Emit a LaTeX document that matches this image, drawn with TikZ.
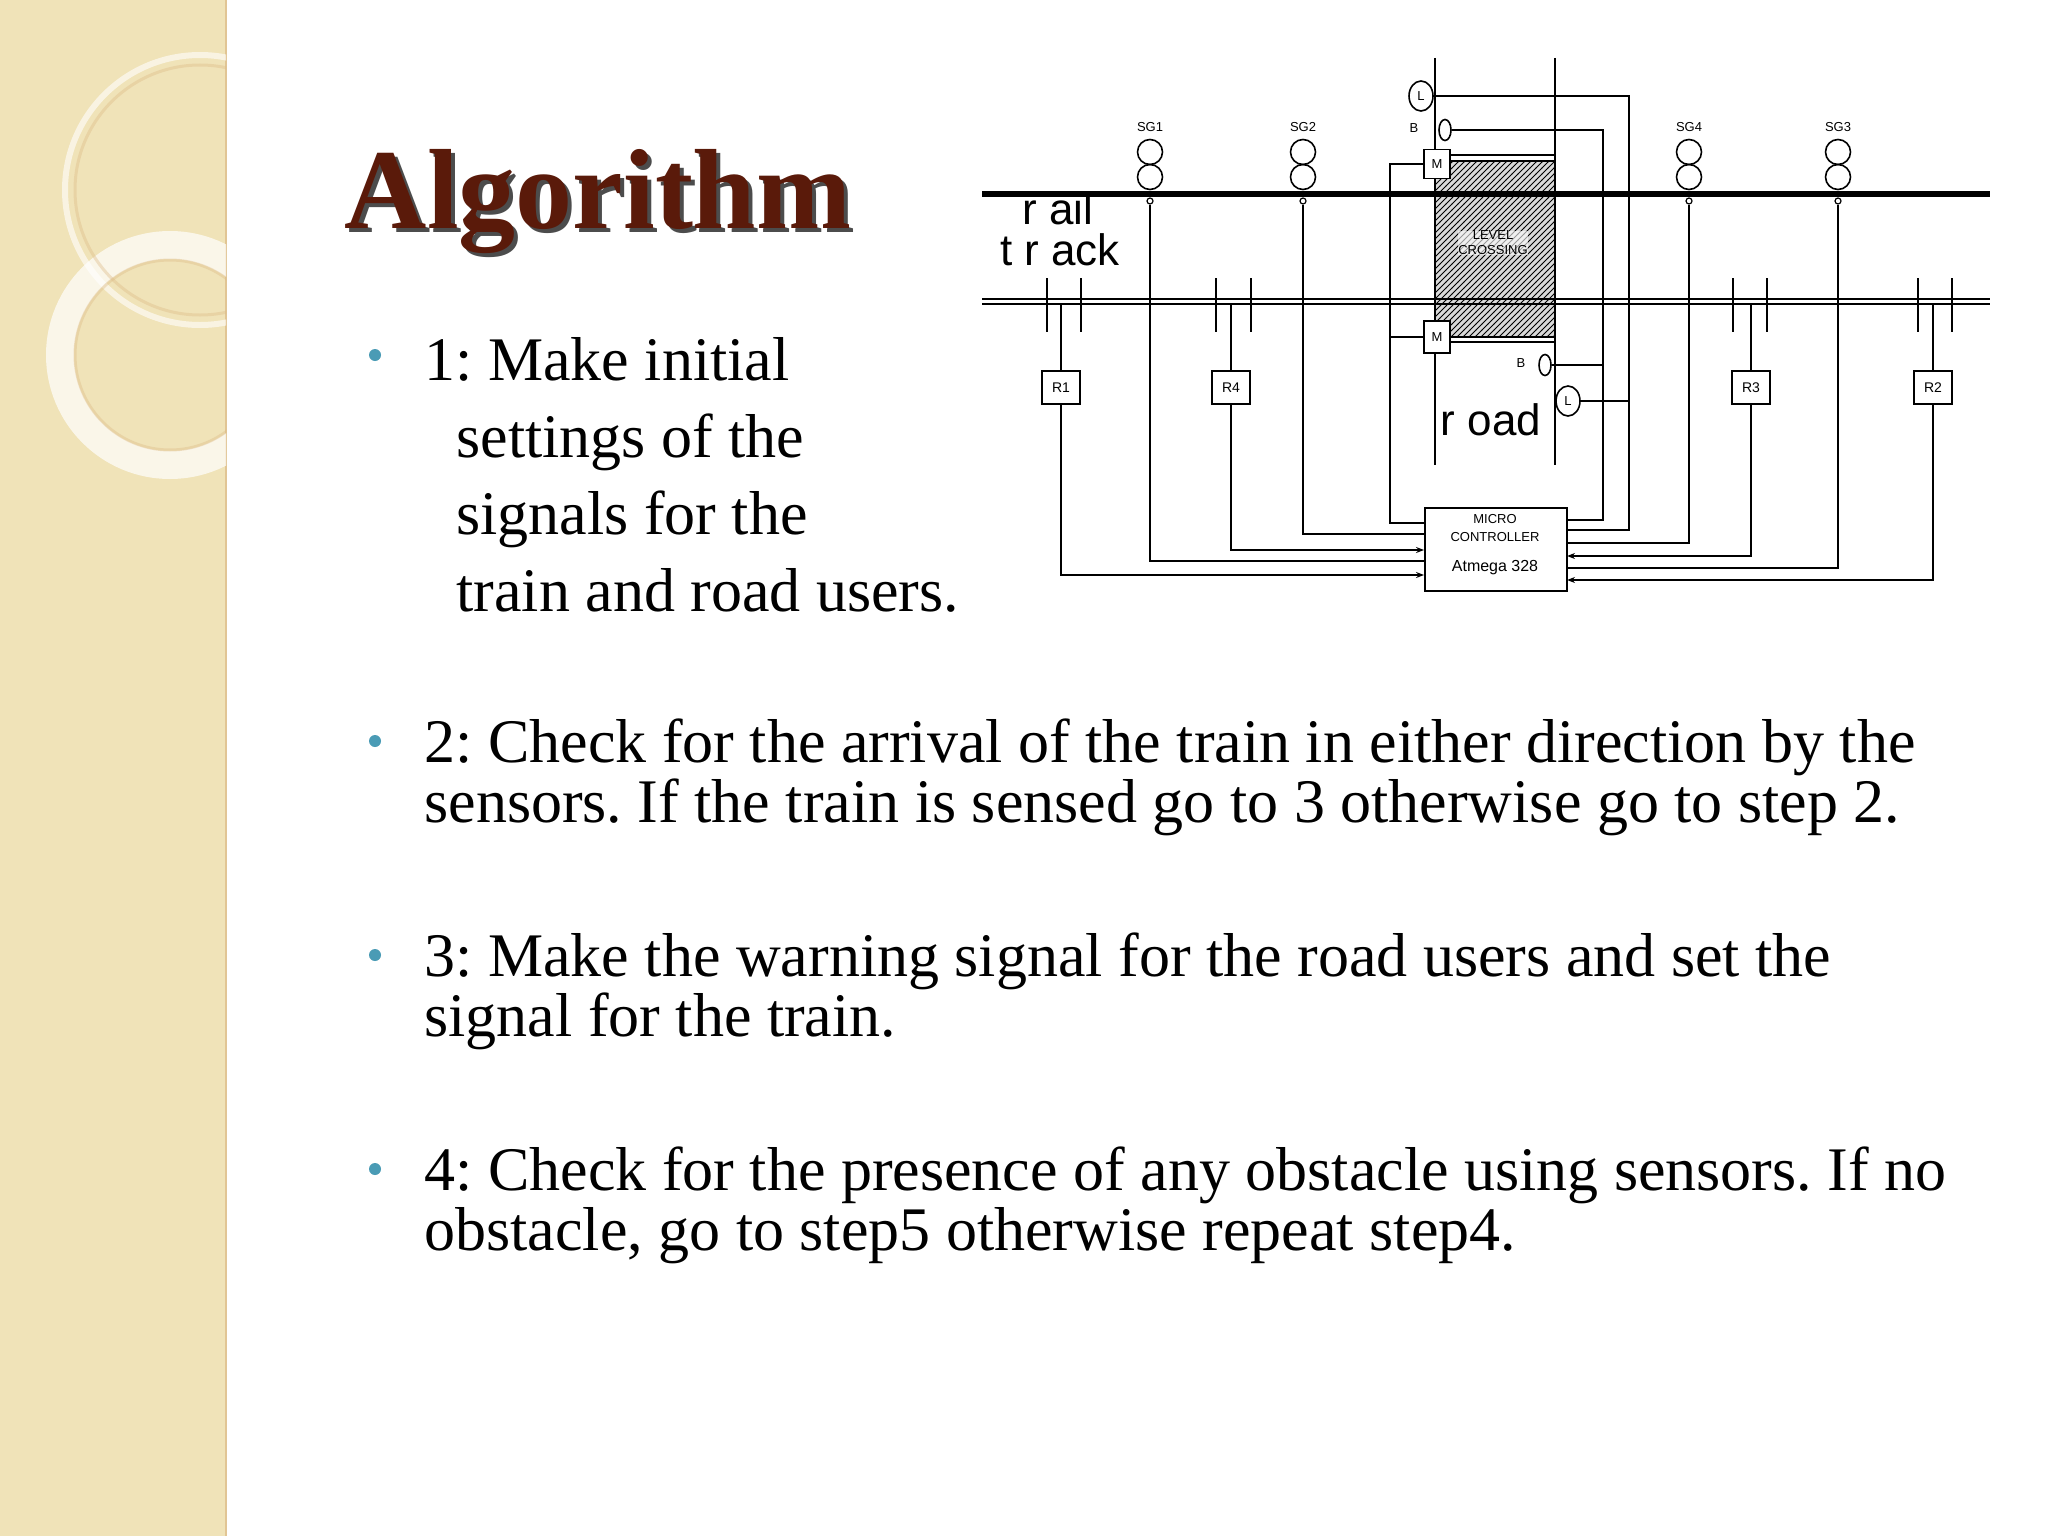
\documentclass[tikz,border=0pt]{standalone}
\usepackage{fontspec}
\setmainfont{Liberation Serif}
\setsansfont{Liberation Sans}
\usetikzlibrary{patterns,arrows.meta,shapes.geometric}
\definecolor{band}{HTML}{F0E3B8}
\definecolor{titlec}{HTML}{5A1A0A}
\definecolor{bul}{HTML}{4A9BB5}
\frenchspacing
\begin{document}
\frenchspacing
\begin{tikzpicture}[x=0.5pt,y=-0.5pt,
  w/.style={line width=1pt},
  body/.style={font=\fontsize{31}{31}\selectfont,anchor=base west,inner sep=0},
  bullet/.style={circle,fill=bul,minimum size=6pt,inner sep=0},
  sg/.style={draw,line width=0.8pt,circle,minimum size=12.5pt,inner sep=0},
  lab/.style={font=\sffamily\fontsize{6.5}{6.5}\selectfont,inner sep=0},
  rbox/.style={draw,fill=white,line width=0.9pt,minimum width=19pt,minimum height=16.5pt,inner sep=0,font=\sffamily\fontsize{7}{7}\selectfont,anchor=north},
  tip/.style={-{Stealth[length=4pt,width=3pt]}}]
\useasboundingbox (0,0) rectangle (2048,1536);
\fill[white] (0,0) rectangle (2048,1536);
% side band
\fill[band] (0,0) rectangle (226,1536);
\draw[line width=1pt,color=band!70!brown] (226,0) -- (226,1536);
\begin{scope}
\clip (0,0) rectangle (226,1536);
\draw[white,opacity=0.6,line width=3pt] (200,190) circle (135);
\draw[white,opacity=0.7,line width=14pt] (170,355) circle (110);
\draw[band!60!brown,opacity=0.4,line width=1.5pt] (170,355) circle (95);
\draw[band!60!brown,opacity=0.4,line width=1.5pt] (200,190) circle (125);
\end{scope}
% title
\node[font=\bfseries\fontsize{57}{57}\selectfont,text=black!70,inner sep=0] (shadow) at (602,206) {Algorithm};
\node[font=\bfseries\fontsize{57}{57}\selectfont,text=titlec,inner sep=0] (title) at (598,202) {Algorithm};
% bullets
\node[bullet] (b1) at (375,355) {};
\node[body] (t1a) at (424,380) {1: Make initial};
\node[body] (t1b) at (456,457) {settings of the};
\node[body] (t1c) at (456,534) {signals for the};
\node[body] (t1d) at (456,611) {train and road users.};
\node[bullet] (b2) at (375,741) {};
\node[body] (t2a) at (424,762) {2: Check for the arrival of the train in either direction by the};
\node[body] (t2b) at (424,822) {sensors. If the train is sensed go to 3 otherwise go to step 2.};
\node[bullet] (b3) at (375,955) {};
\node[body] (t3a) at (424,976) {3: Make the warning signal for the road users and set the};
\node[body] (t3b) at (424,1036) {signal for the train.};
\node[bullet] (b4) at (375,1169) {};
\node[body] (t4a) at (424,1190) {4: Check for the presence of any obstacle using sensors. If no};
\node[body] (t4b) at (424,1250) {obstacle, go to step5 otherwise repeat step4.};
% ===== diagram =====
\fill[gray!30] (1436,161) rectangle (1555,337);
\fill[pattern=north east lines,pattern color=black] (1436,161) rectangle (1555,337);
\draw[w] (1436,155) -- (1555,155); \draw[w] (1436,161) -- (1555,161);
\draw[w] (1436,337) -- (1555,337); \draw[w] (1436,342) -- (1555,342);
\node[lab,fill=white,fill opacity=0.6,text opacity=1,align=center] (lc) at (1493,243) {LEVEL\\[1pt]CROSSING};
% rails
\draw[line width=3pt] (982,194) -- (1990,194);
\draw[w] (982,299) -- (1990,299);
\draw[w] (982,304) -- (1990,304);
% road
\draw[w] (1435,58) -- (1435,465);
\draw[w] (1555,58) -- (1555,465);
\node[inner sep=0,font=\sffamily\fontsize{22}{22}\selectfont] (roadlabel) at (1491,420) {r oad};
\node[inner sep=0,font=\sffamily\fontsize{22}{22}\selectfont] (rail) at (1058,209) {r ail};
\node[inner sep=0,font=\sffamily\fontsize{22}{22}\selectfont] (track) at (1060,250) {t r ack};
% signals
\foreach \n/\x/\t in {s1/1150/SG1,s2/1303/SG2,s4/1689/SG4,s3/1838/SG3}{
  \node[lab] (\n l) at (\x,127) {\t};
  \node[sg] (\n a) at (\x,152) {};
  \node[sg] (\n b) at (\x,177) {};
  \node[draw,circle,fill=white,minimum size=3pt,inner sep=0,line width=0.6pt] (\n c) at (\x,201) {};
}
% sensors
\foreach \xa/\xb/\xc in {1047/1081/1061,1216/1251/1231,1733/1767/1751,1918/1952/1933}{
  \draw[w] (\xa,278) -- (\xa,332);
  \draw[w] (\xb,278) -- (\xb,332);
  \draw[w] (\xc,304) -- (\xc,370);
}
\node[rbox] (r1) at (1061,370) {R1};
\node[rbox] (r4) at (1231,370) {R4};
\node[rbox] (r3) at (1751,370) {R3};
\node[rbox] (r2) at (1933,370) {R2};
% motors
\node[draw,fill=white,line width=0.9pt,minimum width=13pt,minimum height=14.5pt,inner sep=0,lab] (m1) at (1437,164) {M};
\node[draw,fill=white,line width=0.9pt,minimum width=13pt,minimum height=16pt,inner sep=0,lab] (m2) at (1437,337) {M};
% lamps and bells
\node[draw,fill=white,ellipse,line width=0.8pt,minimum width=12pt,minimum height=15pt,inner sep=0,lab] (l1) at (1421,96) {L};
\node[lab] (bl1) at (1414,128) {B};
\node[draw,fill=white,ellipse,line width=0.8pt,minimum width=6pt,minimum height=10.5pt,inner sep=0] (be1) at (1445,130) {};
\node[lab] (bl2) at (1521,363) {B};
\node[draw,fill=white,ellipse,line width=0.8pt,minimum width=6pt,minimum height=10.5pt,inner sep=0] (be2) at (1545,365) {};
\node[draw,fill=white,ellipse,line width=0.8pt,minimum width=12pt,minimum height=15pt,inner sep=0,lab] (l2) at (1568,401) {L};
% controller
\node[draw,line width=1.2pt,minimum width=71pt,minimum height=41.5pt,inner sep=0,anchor=north west] (mcu) at (1424,507) {};
\node[lab] (mc1) at (1495,519) {MICRO};
\node[lab] (mc2) at (1495,537) {CONTROLLER};
\node[font=\sffamily\fontsize{8}{8}\selectfont,inner sep=0] (mc3) at (1495,568) {Atmega 328};
% wires left
\draw[w] (1424,523) -- (1390,523) -- (1390,164) -- (m1.west);
\draw[w] (1390,337) -- (m2.west);
\draw[w] (s2c.south) -- (1303,534) -- (1424,534);
\draw[w,tip] (r4.south) -- (1231,550) -- (1424,550);
\draw[w] (s1c.south) -- (1150,561) -- (1424,561);
\draw[w,tip] (r1.south) -- (1061,575) -- (1424,575);
% wires right
\draw[w] (1567,520) -- (1603,520) -- (1603,130) -- (be1.east);
\draw[w] (1603,365) -- (be2.east);
\draw[w] (1567,530) -- (1629,530) -- (1629,96) -- (l1.east);
\draw[w] (1629,401) -- (l2.east);
\draw[w] (1567,543) -- (1689,543) -- (s4c.south);
\draw[w,tip] (r3.south) -- (1751,556) -- (1567,556);
\draw[w] (1567,568) -- (1838,568) -- (s3c.south);
\draw[w,tip] (r2.south) -- (1933,580) -- (1567,580);
\end{tikzpicture}
\end{document}
